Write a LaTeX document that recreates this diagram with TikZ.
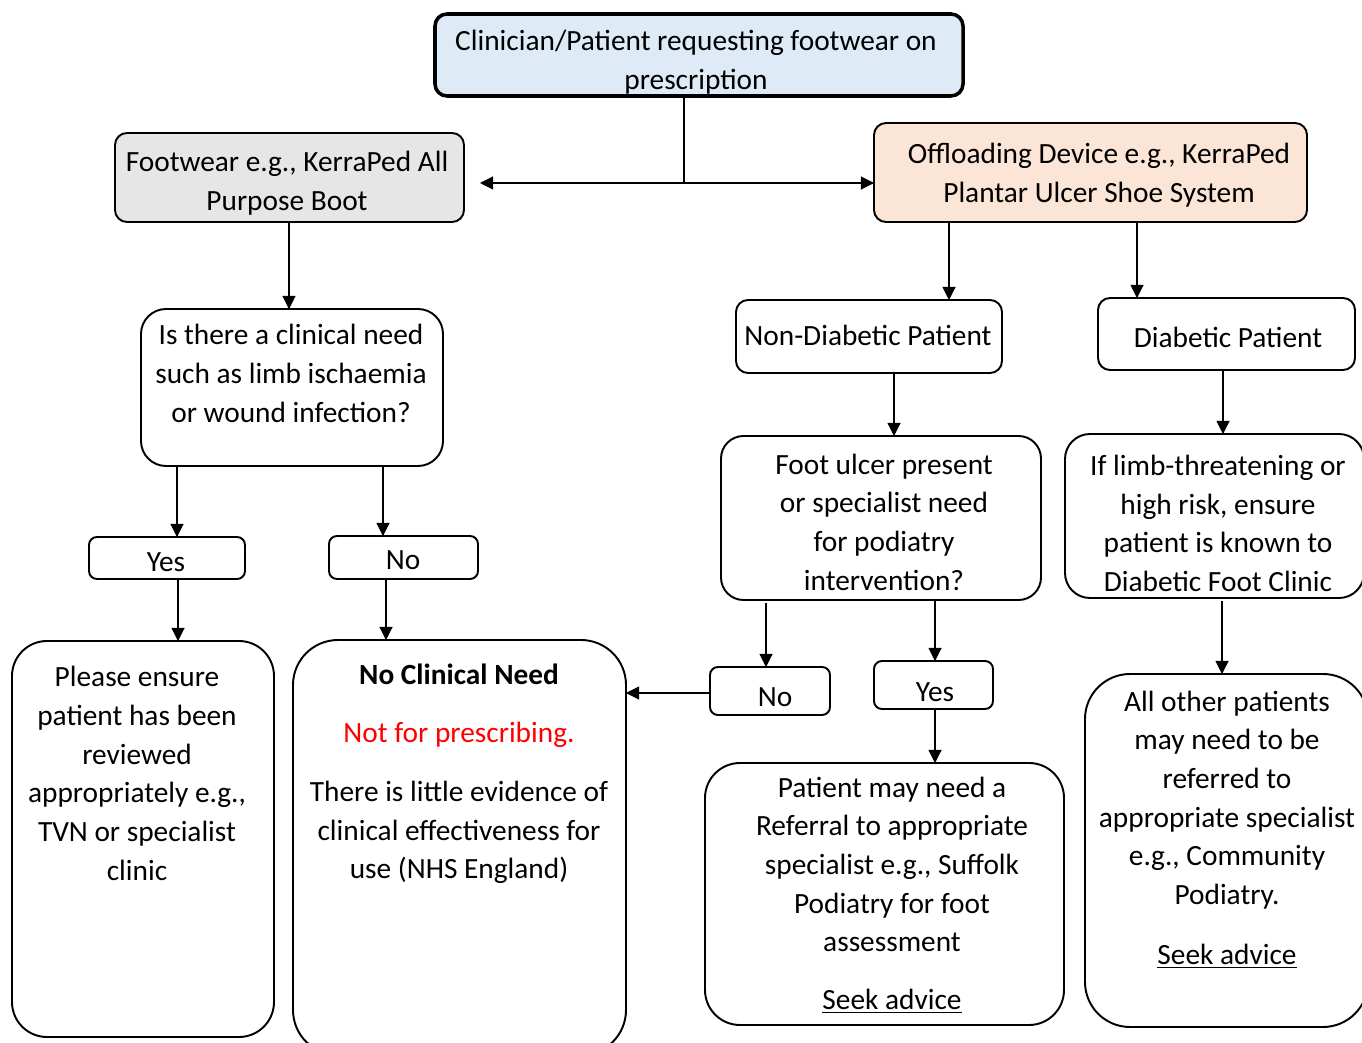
\documentclass[tikz,border=0pt]{standalone}
\usepackage{fontspec}
\setmainfont{Carlito}
\usetikzlibrary{arrows.meta,fit}
\definecolor{topblue}{HTML}{DEEBF7}
\definecolor{fwgrey}{HTML}{E7E6E6}
\definecolor{offpeach}{HTML}{FBE5D6}
\begin{document}
\begin{tikzpicture}[x=0.02cm,y=-0.02cm,
  box/.style={draw, line width=1.1pt, inner sep=0pt, outer sep=0pt},
  txt/.style={align=center, inner sep=0pt, yshift=-0.03cm, font=\fontsize{16.7}{22}\selectfont},
  arr/.style={-{Triangle[width=7.5pt,length=7.5pt]}, line width=0.6pt},
  ln/.style={line width=0.6pt}]
\useasboundingbox (0,0) rectangle (1362,1043);
\clip (0,0) rectangle (1362,1043);

% boxes
\node[box, line width=2pt, fill=topblue, rounded corners=0.24cm, fit={(435,14) (963,96)}] (top) {};
\node[box, fill=fwgrey, rounded corners=0.24cm, fit={(115,133) (464,222)}] (fw) {};
\node[box, fill=offpeach, rounded corners=0.24cm, fit={(874,123) (1307,222)}] (off) {};
\node[box, rounded corners=0.5cm, fit={(141,309) (443,466)}] (q) {};
\node[box, rounded corners=0.16cm, fit={(89,537) (245,579)}] (yes1) {};
\node[box, rounded corners=0.16cm, fit={(329,536) (478,579)}] (no1) {};
\node[box, rounded corners=0.7cm, fit={(12,641) (274,1037)}] (please) {};
\node[box, rounded corners=0.9cm, fit={(293,640) (626,1055)}] (ncn) {};
\node[box, rounded corners=0.24cm, fit={(736,300) (1002,373)}] (nond) {};
\node[box, rounded corners=0.24cm, fit={(1098,298) (1355,370)}] (diab) {};
\node[box, rounded corners=0.45cm, fit={(721,436) (1041,600)}] (ulcer) {};
\node[box, rounded corners=0.5cm, fit={(1065,434) (1364,598)}] (limb) {};
\node[box, rounded corners=0.16cm, fit={(710,667) (830,715)}] (no2) {};
\node[box, rounded corners=0.16cm, fit={(874,661) (993,709)}] (yes2) {};
\node[box, rounded corners=0.7cm, fit={(705,763) (1064,1025)}] (pmn) {};
\node[box, rounded corners=0.9cm, fit={(1085,674) (1368,1027)}] (other) {};

% texts
\node[txt] (top-t) at (696,60.5) {Clinician/Patient requesting footwear on\\prescription};
\node[txt] (fw-t) at (287,181.5) {Footwear e.g., KerraPed All\\Purpose Boot};
\node[txt] (off-t) at (1099,174) {Offloading Device e.g., KerraPed\\Plantar Ulcer Shoe System};
\node[txt] (q-t) at (291,372) {Is there a clinical need\\such as limb ischaemia\\or wound infection?};
\node[txt] (yes1-t) at (166,561) {Yes};
\node[txt] (no1-t) at (403,559) {No};
\node[txt] (please-t) at (137,772) {Please ensure\\patient has been\\reviewed\\appropriately e.g.,\\TVN or specialist\\clinic};
\node[txt, font=\fontsize{16.7}{22}\selectfont\bfseries] (ncn-h) at (459,673) {No Clinical Need};
\node[txt, text=red] (ncn-r) at (459,733) {Not for prescribing.};
\node[txt] (ncn-t) at (459,831) {There is little evidence of\\clinical effectiveness for\\use (NHS England)};
\node[txt] (nond-t) at (868,334) {Non-Diabetic Patient};
\node[txt] (diab-t) at (1228,336) {Diabetic Patient};
\node[txt] (ulcer-t) at (884,520.5) {Foot ulcer present\\or specialist need\\for podiatry\\intervention?};
\node[txt] (limb-t) at (1218,522) {If limb-threatening or\\high risk, ensure\\patient is known to\\Diabetic Foot Clinic};
\node[txt] (no2-t) at (775,696) {No};
\node[txt] (yes2-t) at (935,691) {Yes};
\node[txt] (pmn-t) at (892,863) {Patient may need a\\Referral to appropriate\\specialist e.g., Suffolk\\Podiatry for foot\\assessment};
\node[txt] (pmn-s) at (892,1000) {\underline{Seek advice}};
\node[txt] (other-t) at (1227,798.5) {All other patients\\may need to be\\referred to\\appropriate specialist\\e.g., Community\\Podiatry.};
\node[txt] (other-s) at (1227,955) {\underline{Seek advice}};

% connectors
\coordinate (split) at (684,183);
\coordinate (fwin) at (480,183);
\draw[ln] (top.south -| 684,0) -- (split);
\draw[arr] (split) -- (fwin);
\draw[arr] (split) -- (off.west |- split);
\draw[arr] (fw.south -| 289,0) -- (q.north -| 289,0);
\draw[arr] (q.south -| 177,0) -- (yes1.north -| 177,0);
\draw[arr] (q.south -| 383,0) -- (no1.north -| 383,0);
\draw[arr] (yes1.south -| 178,0) -- (please.north -| 178,0);
\draw[arr] (no1.south -| 386,0) -- (ncn.north -| 386,0);
\draw[arr] (off.south -| 949,0) -- (nond.north -| 949,0);
\draw[arr] (off.south -| 1137,0) -- (diab.north -| 1137,0);
\draw[arr] (nond.south -| 894,0) -- (ulcer.north -| 894,0);
\draw[arr] (diab.south -| 1223,0) -- (limb.north -| 1223,0);
\draw[arr] ([yshift=-0.06cm]ulcer.south -| 766,0) -- (no2.north -| 766,0);
\draw[arr] (ulcer.south -| 935,0) -- (yes2.north -| 935,0);
\draw[arr] (yes2.south -| 935,0) -- (pmn.north -| 935,0);
\draw[arr] (no2.west |- 0,693) -- (ncn.east |- 0,693);
\draw[arr] ([yshift=-0.06cm]limb.south -| 1222,0) -- (other.north -| 1222,0);
\end{tikzpicture}
\end{document}
